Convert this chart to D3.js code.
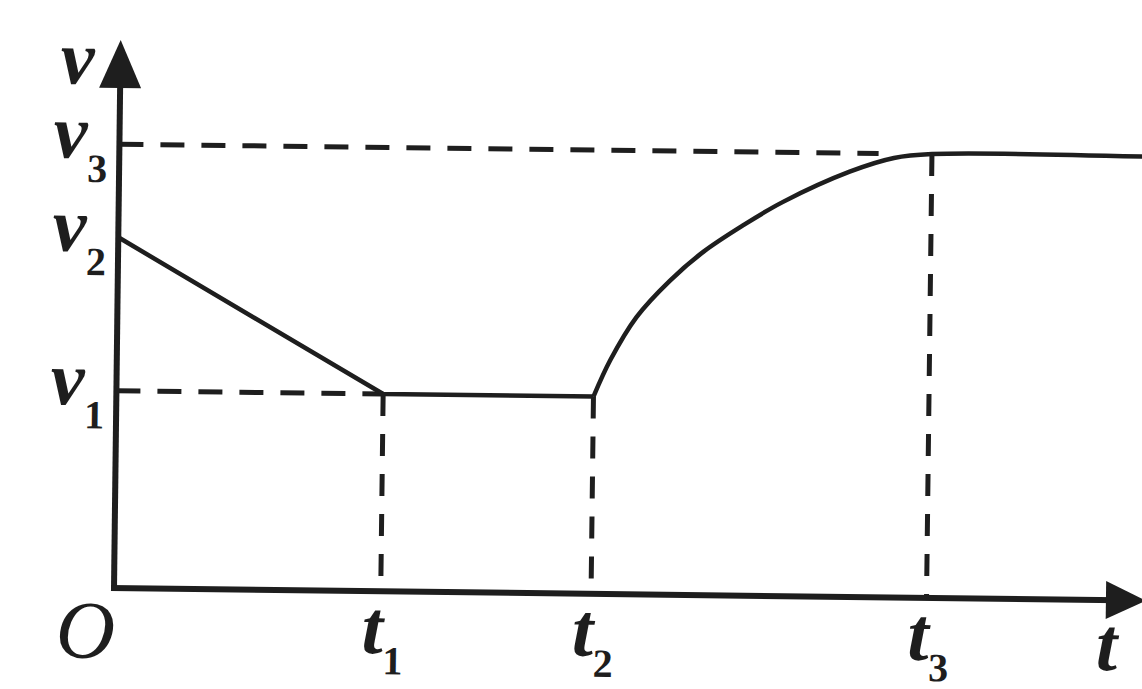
<!DOCTYPE html>
<html>
<head>
<meta charset="utf-8">
<script src="https://cdn.jsdelivr.net/npm/d3@7"></script>
<style>
  html, body { margin: 0; padding: 0; background: #fff; }
  svg { display: block; }
  .lbl { font-family: "Liberation Serif", "DejaVu Serif", serif; font-style: italic; fill: #1e1e1e; }
  .sub { font-style: normal; }
</style>
</head>
<body>
<div id="chart"></div>
<script>
// v-t diagram (schematic units, 0..100 on both axes)
var timeMarks = [26, 46.5, 79.2];          // t1, t2, t3
var timeSubs = ["1", "2", "3"];
var speedMarks = [36, 64, 81];             // v1, v2, v3
var speedSubs = ["1", "2", "3"];

// first part: falls from v2 to v1, then holds v1 until t2
var lineT = [0, 26, 46.5];
var lineV = [64, 36, 36];

// second part: rises from v1 at t2 and levels at v3
var curveT = [46.5, 48.1, 50.6, 53.8, 57.0, 60.9, 64.7, 71.2, 75.5, 79.2, 100];
var curveV = [36, 42.7, 50.6, 57.3, 62.6, 67.6, 71.9, 77.6, 80.2, 81, 81];

var width = 1142, height = 689;
var ink = "#1e1e1e";

var svg = d3.select("#chart").append("svg")
    .attr("width", width)
    .attr("height", height);

svg.append("rect").attr("width", width).attr("height", height).attr("fill", "#fff");

var x = d3.scaleLinear().domain([0, 100]).range([114, 1140]);
var y = d3.scaleLinear().domain([0, 100]).range([588, 40]);

var x0 = x(0), y0 = y(0);

// the scanned figure is slightly tilted
var g = svg.append("g")
    .attr("transform", "rotate(0.7," + x0 + "," + y0 + ")");

// dashed guides
var dashH = "24 17", dashV = "22 18";

g.append("line")
    .attr("x1", x0).attr("x2", x(timeMarks[0]))
    .attr("y1", y(speedMarks[0])).attr("y2", y(speedMarks[0]))
    .attr("stroke", ink).attr("stroke-width", 5).attr("stroke-dasharray", dashH);

g.append("line")
    .attr("x1", x0).attr("x2", x(74))
    .attr("y1", y(speedMarks[2])).attr("y2", y(speedMarks[2]))
    .attr("stroke", ink).attr("stroke-width", 5).attr("stroke-dasharray", dashH);

var guideTops = [speedMarks[0], speedMarks[0], speedMarks[2]];
g.selectAll(".vguide")
    .data(timeMarks)
    .enter().append("line")
    .attr("class", "vguide")
    .attr("x1", function(d){ return x(d); })
    .attr("x2", function(d){ return x(d); })
    .attr("y1", function(d, i){ return y(guideTops[i]); })
    .attr("y2", y0)
    .attr("stroke", ink).attr("stroke-width", 5).attr("stroke-dasharray", dashV);

// graph
var straight = d3.line()
    .x(function(d){ return x(d[0]); })
    .y(function(d){ return y(d[1]); });

var smooth = d3.line()
    .x(function(d){ return x(d[0]); })
    .y(function(d){ return y(d[1]); })
    .curve(d3.curveCatmullRom.alpha(0.5));

g.append("path")
    .attr("d", straight(d3.zip(lineT, lineV)))
    .attr("fill", "none").attr("stroke", ink).attr("stroke-width", 4.5)
    .attr("stroke-linejoin", "round");

g.append("path")
    .attr("d", smooth(d3.zip(curveT, curveV)))
    .attr("fill", "none").attr("stroke", ink).attr("stroke-width", 4.5);

// axes
g.append("line")
    .attr("x1", x0).attr("x2", x0)
    .attr("y1", y0 + 3).attr("y2", y(100) + 30)
    .attr("stroke", ink).attr("stroke-width", 6);

g.append("line")
    .attr("x1", x0 - 3).attr("x2", x(100) - 20)
    .attr("y1", y0).attr("y2", y0)
    .attr("stroke", ink).attr("stroke-width", 6);

g.append("path")
    .attr("d", "M" + x0 + "," + y(100) + "L" + (x0 - 21) + "," + (y(100) + 48) +
               "L" + (x0 + 21) + "," + (y(100) + 48) + "Z")
    .attr("fill", ink);

var xEnd = x(100) + 6;
g.append("path")
    .attr("d", "M" + xEnd + "," + y0 + "L" + (xEnd - 40) + "," + (y0 - 19) +
               "L" + (xEnd - 40) + "," + (y0 + 19) + "Z")
    .attr("fill", ink);

// labels
var vLabels = g.selectAll(".vlab")
    .data(speedMarks)
    .enter().append("text")
    .attr("class", "lbl vlab")
    .attr("text-anchor", "end")
    .attr("font-weight", "bold")
    .attr("x", x0 - 12)
    .attr("y", function(d){ return y(d) + 14; });
vLabels.append("tspan").attr("font-size", 76).text("v");
vLabels.append("tspan").attr("class", "sub").attr("font-size", 40).attr("dy", 24)
    .text(function(d, i){ return speedSubs[i]; });

var tLabels = g.selectAll(".tlab")
    .data(timeMarks)
    .enter().append("text")
    .attr("class", "lbl tlab")
    .attr("text-anchor", "middle")
    .attr("font-weight", "bold")
    .attr("x", function(d){ return x(d) + 2; })
    .attr("y", y0 + 62);
tLabels.append("tspan").attr("font-size", 76).text("t");
tLabels.append("tspan").attr("class", "sub").attr("font-size", 40).attr("dy", 21)
    .text(function(d, i){ return timeSubs[i]; });

g.append("text")
    .attr("class", "lbl")
    .attr("font-weight", "bold")
    .attr("font-size", 76)
    .attr("text-anchor", "end")
    .attr("x", x0 - 26)
    .attr("y", y(100) + 44)
    .text("v");

g.append("text")
    .attr("class", "lbl")
    .attr("font-weight", "bold")
    .attr("font-size", 76)
    .attr("text-anchor", "middle")
    .attr("x", x(96.8))
    .attr("y", y0 + 70)
    .text("t");

g.append("text")
    .attr("class", "lbl")
    .attr("font-size", 82)
    .attr("text-anchor", "middle")
    .attr("x", x0 - 28)
    .attr("y", y0 + 70)
    .text("O");
</script>
</body>
</html>
